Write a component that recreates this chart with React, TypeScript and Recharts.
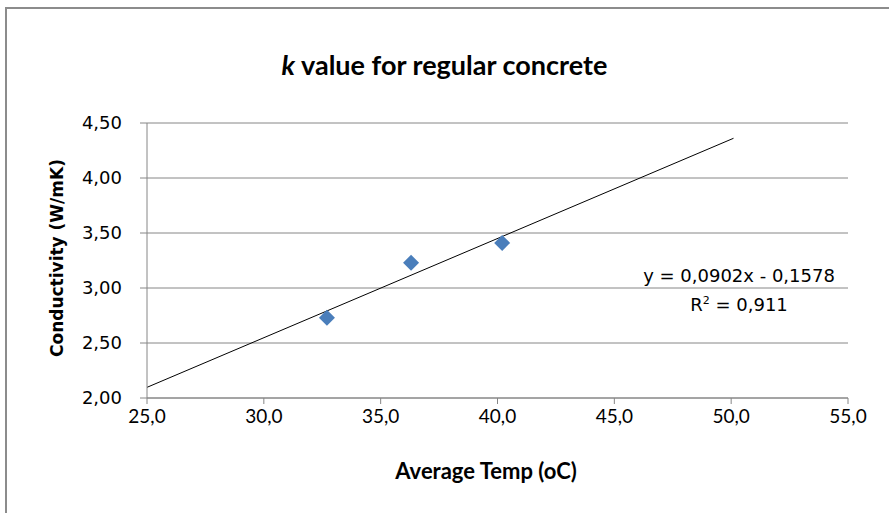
import React from "react";
import {
  ComposedChart,
  Scatter,
  Line,
  XAxis,
  YAxis,
  CartesianGrid,
} from "recharts";

// measured points (avg temp °C, conductivity W/mK)
const temps = [32.7, 36.3, 40.2];
const conductivity = [2.73, 3.23, 3.41];

// linear trendline ends, as drawn
const trendX = [25.0, 50.1];
const trendY = [2.097, 4.361];

const xTicks = [25, 30, 35, 40, 45, 50, 55];
const yTicks = [2.0, 2.5, 3.0, 3.5, 4.0, 4.5];

const points = temps.map((t, i) => ({ x: t, y: conductivity[i] }));
const trend = trendX.map((t, i) => ({ x: t, y: trendY[i] }));

const comma = (v: number, d: number) => v.toFixed(d).replace(".", ",");

const Diamond = (props: any) => {
  const { cx, cy } = props;
  const r = 8;
  return (
    <polygon
      points={`${cx},${cy - r} ${cx + r},${cy} ${cx},${cy + r} ${cx - r},${cy}`}
      fill="#4a7ebb"
    />
  );
};

const XTick = (props: any) => {
  const { x, y, payload } = props;
  return (
    <text
      x={x}
      y={y + 17}
      textAnchor="middle"
      fontFamily="Lato"
      fontSize={19}
      fill="#000"
    >
      {comma(payload.value, 1)}
    </text>
  );
};

const YTick = (props: any) => {
  const { x, y, payload } = props;
  return (
    <text
      x={x - 16}
      y={y + 6}
      textAnchor="end"
      fontFamily="DejaVu Sans"
      fontSize={18}
      fill="#000"
    >
      {comma(payload.value, 2)}
    </text>
  );
};

export default function App() {
  return (
    <div
      style={{
        position: "absolute",
        left: 0,
        top: 0,
        width: 889,
        height: 513,
        overflow: "hidden",
        background: "#fff",
      }}
    >
      <div
        style={{
          position: "absolute",
          left: 5,
          top: 7,
          width: 920,
          height: 540,
          border: "2px solid #8c8c8c",
        }}
      />
      <div
        style={{
          position: "absolute",
          left: 0,
          width: 889,
          top: 48,
          textAlign: "center",
          fontFamily: "Lato",
          fontWeight: 700,
          fontSize: 27,
          color: "#000",
        }}
      >
        <i>k</i> value for regular concrete
      </div>

      <ComposedChart
        width={889}
        height={513}
        margin={{ top: 123, right: 41, bottom: 45, left: 77 }}
        style={{ position: "absolute", left: 0, top: 0 }}
      >
        <CartesianGrid vertical={false} stroke="#868686" />
        <XAxis
          type="number"
          dataKey="x"
          domain={[25, 55]}
          ticks={xTicks}
          interval={0}
          height={70}
          stroke="#868686"
          tickSize={6}
          tick={<XTick />}
        />
        <YAxis
          type="number"
          dataKey="y"
          domain={[2, 4.5]}
          ticks={yTicks}
          interval={0}
          width={70}
          stroke="#868686"
          tickSize={7}
          tick={<YTick />}
        />
        <Line
          data={trend}
          dataKey="y"
          type="linear"
          stroke="#000"
          strokeWidth={1}
          dot={false}
          activeDot={false}
          isAnimationActive={false}
        />
        <Scatter
          data={points}
          dataKey="y"
          shape={<Diamond />}
          isAnimationActive={false}
        />
      </ComposedChart>

      <div
        style={{
          position: "absolute",
          left: 57,
          top: 258,
          transform: "translate(-50%, -50%) rotate(-90deg)",
          whiteSpace: "nowrap",
          fontFamily: "DejaVu Sans",
          fontWeight: 700,
          fontSize: 17,
        }}
      >
        Conductivity (W/mK)
      </div>
      <div
        style={{
          position: "absolute",
          left: 486,
          top: 470,
          transform: "translate(-50%, -50%)",
          whiteSpace: "nowrap",
          fontFamily: "Lato",
          fontWeight: 700,
          fontSize: 22,
        }}
      >
        Average Temp (oC)
      </div>
      <div
        style={{
          position: "absolute",
          left: 739,
          top: 261,
          transform: "translateX(-50%)",
          whiteSpace: "nowrap",
          fontFamily: "DejaVu Sans",
          fontSize: 18,
          lineHeight: "29px",
          textAlign: "center",
        }}
      >
        y = 0,0902x - 0,1578
        <br />
        R<sup style={{ fontSize: 11, lineHeight: 0 }}>2</sup> = 0,911
      </div>
    </div>
  );
}
